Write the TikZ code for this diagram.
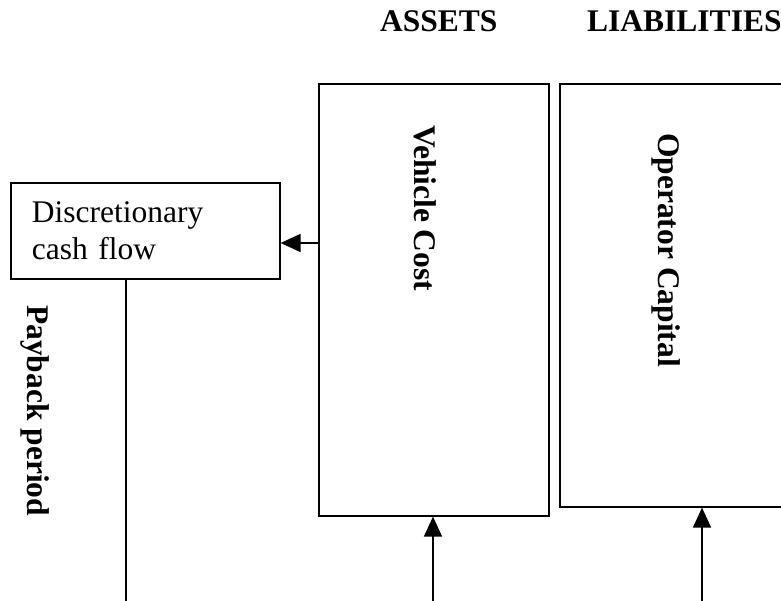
\documentclass[tikz,border=0pt]{standalone}
\usepackage{fontspec}
\setmainfont{Liberation Serif}
\usetikzlibrary{arrows.meta}
\tikzset{
  box/.style={draw, line width=1.6pt, inner sep=0pt, anchor=north west},
  txt/.style={inner sep=0pt, font=\fontsize{31.5}{37}\selectfont},
  btxt/.style={inner sep=0pt, font=\fontsize{31.5}{37}\selectfont\bfseries},
  vtxt/.style={btxt, rotate=-90, anchor=base west},
  conn/.style={line width=1.6pt},
  arr/.style={conn, -{Triangle[length=20pt,width=18pt]}}
}
\begin{document}
\begin{tikzpicture}[x=1pt,y=1pt]
\useasboundingbox (0,0) rectangle (781,600);
\clip (0,0) rectangle (781,600);
% titles
\node[btxt, anchor=base west] (assets) at (380,568) {ASSETS};
\node[btxt, anchor=base west] (liab) at (587,568) {LIABILITIES};
% boxes
\node[box, minimum width=269pt, minimum height=96pt, txt, align=left,
      text width=227pt, inner xsep=21pt] (disc) at (10,418)
      {Discretionary\\cash flow};
\node[box, minimum width=230pt, minimum height=432pt] (veh) at (318,517) {};
\node[box, minimum width=286pt, minimum height=423pt] (op) at (559,517) {};
% rotated labels
\node[vtxt] (vc) at (414,475) {Vehicle Cost};
\node[vtxt] (oc) at (658,467) {Operator Capital};
\node[vtxt] (pp) at (27,295) {Payback period};
% connectors
\coordinate (ay) at (0,357);
\draw[arr] (veh.west |- ay) -- (disc.east |- ay);
\coordinate (vin) at (433,-5);
\coordinate (oin) at (702,-5);
\coordinate (pin) at (125.7,-5);
\draw[arr] (vin) -- (vin |- veh.south);
\draw[arr] (oin) -- (oin |- op.south);
\draw[conn] (pin |- disc.south) -- (pin);
\end{tikzpicture}
\end{document}
